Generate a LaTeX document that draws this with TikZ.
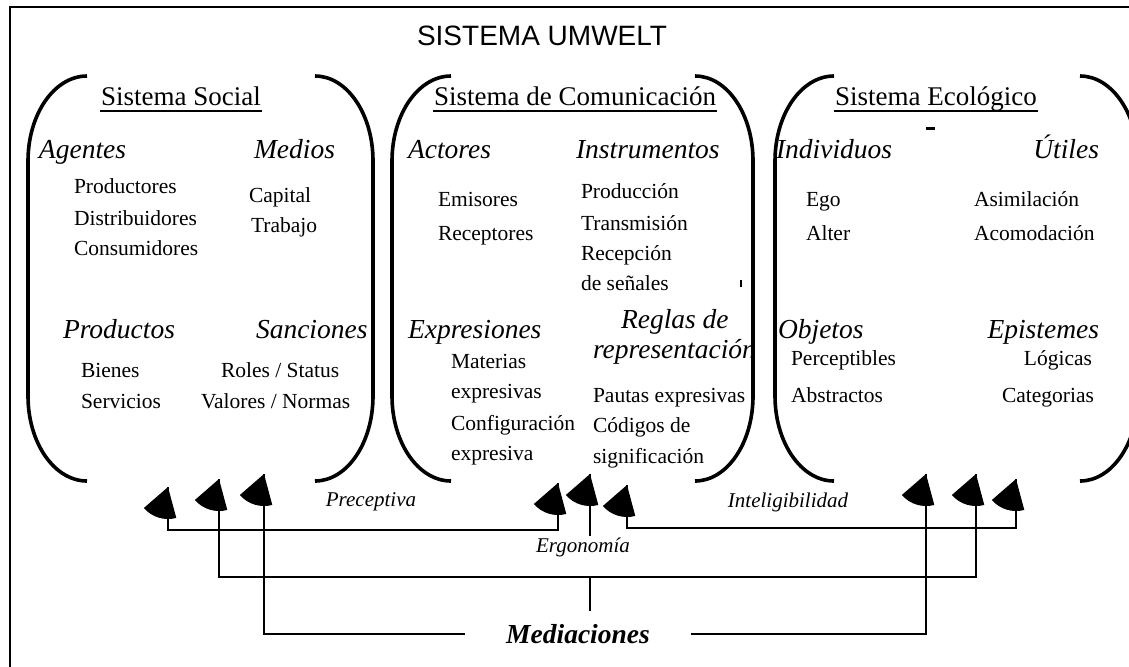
\documentclass[tikz,border=0pt]{standalone}
\usepackage{fontspec}
\setmainfont{Liberation Serif}
\newfontfamily\umweltfont{Liberation Sans}
\tikzset{
    arrowfan/.pic={\fill (0,0) -- (75:32) arc[start angle=75, end angle=139, radius=32] -- cycle;}
}

\begin{document}
\begin{tikzpicture}[x=0.5pt, y=-0.5pt, line width=1pt,
    every node/.style={inner sep=0pt, anchor=base west},
    heading/.style={anchor=base, font=\fontsize{13.5}{16}\selectfont},
    group/.style={font=\fontsize{13.75}{16}\selectfont\itshape},
    entry/.style={font=\fontsize{10.75}{13}\selectfont},
    linklabel/.style={anchor=base, font=\fontsize{10.5}{12}\selectfont\itshape},
    bracket/.style={line width=1.8pt}]

    \useasboundingbox (0,0) rectangle (1129,666);
    \clip (0,0) rectangle (1129,666);
    \draw (10,7) rectangle (1150,690);

    \node[anchor=base, font=\umweltfont\fontsize{14}{16}\selectfont] (umwelt) at (542,45) {SISTEMA UMWELT};

    \foreach \l/\r in {28/373, 392/753, 775/1138} {
        \draw[bracket] (\l+59,76) arc[start angle=270, end angle=180, x radius=59, y radius=85]
            -- (\l,396) arc[start angle=180, end angle=90, x radius=59, y radius=85];
        \draw[bracket] (\r-58,76) arc[start angle=270, end angle=360, x radius=58, y radius=85]
            -- (\r,396) arc[start angle=0, end angle=90, x radius=58, y radius=85];
    }

    \node[heading] (social) at (181,105) {Sistema Social};
    \node[group] (agentes) at (38,158) {Agentes};
    \node[group] (medios) at (253,158) {Medios};
    \node[entry] (productores) at (73,193) {Productores};
    \node[entry] (distribuidores) at (73,225) {Distribuidores};
    \node[entry] (consumidores) at (73,255) {Consumidores};
    \node[entry] (capital) at (248,202) {Capital};
    \node[entry] (trabajo) at (250,232) {Trabajo};
    \node[group] (productos) at (62,338) {Productos};
    \node[group] (sanciones) at (255,338) {Sanciones};
    \node[entry] (bienes) at (80,377) {Bienes};
    \node[entry] (servicios) at (80,408) {Servicios};
    \node[entry] (roles) at (220,377) {Roles / Status};
    \node[entry] (valores) at (200,408) {Valores / Normas};

    \node[heading] (comunicacion) at (575,105) {Sistema de Comunicación};
    \node[group] (actores) at (407,158) {Actores};
    \node[group] (instrumentos) at (575,158) {Instrumentos};
    \node[entry] (emisores) at (437,206) {Emisores};
    \node[entry] (receptores) at (437,240) {Receptores};
    \node[entry] (produccion) at (580,198) {Producción};
    \node[entry] (transmision) at (580,230) {Transmisión};
    \node[entry] (recepcion) at (580,260) {Recepción};
    \node[entry] (senales) at (580,290) {de señales};
    \node[group] (expresiones) at (407,338) {Expresiones};
    \node[group] (reglas) at (620,328) {Reglas de};
    \node[group] (representacion) at (592,358) {representación};
    \node[entry] (materias) at (450,368) {Materias};
    \node[entry] (expresivas) at (450,398) {expresivas};
    \node[entry] (configuracion) at (450,430) {Configuración};
    \node[entry] (expresiva) at (450,460) {expresiva};
    \node[entry] (pautas) at (592,402) {Pautas expresivas};
    \node[entry] (codigos) at (592,432) {Códigos de};
    \node[entry] (significacion) at (592,463) {significación};

    \node[heading] (ecologico) at (936,105) {Sistema Ecológico};
    \node[group] (individuos) at (775,158) {Individuos};
    \node[group, anchor=base east] (utiles) at (1100,158) {Útiles};
    \node[entry] (ego) at (805,206) {Ego};
    \node[entry] (alter) at (805,240) {Alter};
    \node[entry] (asimilacion) at (973,206) {Asimilación};
    \node[entry] (acomodacion) at (973,240) {Acomodación};
    \node[group] (objetos) at (777,338) {Objetos};
    \node[group, anchor=base east] (epistemes) at (1100,338) {Epistemes};
    \node[entry] (perceptibles) at (790,365) {Perceptibles};
    \node[entry] (abstractos) at (790,402) {Abstractos};
    \node[entry, anchor=base east] (logicas) at (1093,365) {Lógicas};
    \node[entry, anchor=base east] (categorias) at (1095,402) {Categorias};

    \foreach \h in {social,comunicacion,ecologico}
        \draw[line width=0.9pt] ([yshift=-3pt]\h.base west) -- ([yshift=-3pt]\h.base east);

    \draw (741,280) -- (741,287);
    \draw[line width=1.5pt] (926,128) -- (935,128);

    \coordinate (soc1) at (168,487);
    \coordinate (soc2) at (219,479);
    \coordinate (soc3) at (264,474);
    \coordinate (com1) at (558,483);
    \coordinate (com2) at (590,474);
    \coordinate (com3) at (627,485);
    \coordinate (eco1) at (926,474);
    \coordinate (eco2) at (976,474);
    \coordinate (eco3) at (1016,479);
    \coordinate (pre) at (0,530);
    \coordinate (erg) at (0,577);
    \coordinate (int) at (0,528);

    \node[linklabel] (preceptiva) at (371,506) {Preceptiva};
    \node[linklabel] (ergonomia) at (583,552) {Ergonomía};
    \node[linklabel] (inteligibilidad) at (788,507) {Inteligibilidad};
    \node[anchor=base, inner xsep=20pt, inner ysep=6pt, font=\fontsize{13.75}{16}\selectfont\bfseries\itshape] (mediaciones) at (578,643) {Mediaciones};

    \draw (soc1) |- (com1 |- pre) -- (com1);
    \draw (soc2) |- (eco2 |- erg) -- (eco2);
    \draw (com3) |- (eco3 |- int) -- (eco3);
    \draw (soc3) |- (mediaciones.west);
    \draw (mediaciones.east) -| (eco1);
    \draw (com2) -- (com2 |- ergonomia.north);
    \draw (com2 |- erg) -- (com2 |- mediaciones.north);

    \foreach \p in {soc1,soc2,soc3,com1,com2,com3,eco1,eco2,eco3}
        \pic at (\p) {arrowfan};
\end{tikzpicture}
\end{document}
